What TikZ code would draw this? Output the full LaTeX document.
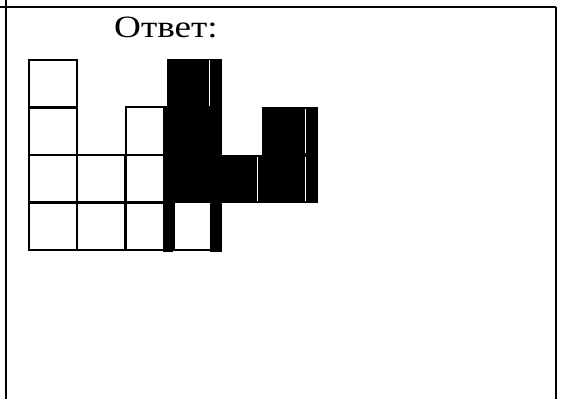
\documentclass[tikz,border=0pt]{standalone}
\usepackage{fontspec}
\setmainfont{Liberation Serif}
\newfontfamily\answerfont[FakeStretch=1.2]{Liberation Serif}
\begin{document}
\begin{tikzpicture}[x=1pt, y=-1pt,
    cell/.style={draw=black, line width=2.8pt},
    gap/.style={draw=white, line width=1pt}]
  \useasboundingbox (0,0) rectangle (561,399);
  % table borders
  \draw[line width=2pt] (0,7) -- (556,7);
  \draw[line width=2pt] (6,0) -- (6,399);
  \draw[line width=2pt] (556,7) -- (556,399);
  % caption
  \node[font=\answerfont\fontsize{31}{34}\selectfont, anchor=base, inner sep=0pt] (answer) at (166,37) {Ответ:};
  % empty cells
  \foreach \x/\y in {29/60, 29/107, 29/155, 29/202, 77/155, 77/202, 126/107, 126/155, 126/202}
    \draw[cell] (\x,\y) rectangle ++(48,48);
  \draw[cell] (173,250) -- (210,250);
  % filled cells
  \fill (167,59) rectangle (222,107);
  \fill (163,107) rectangle (222,203);
  \fill (163,203) rectangle (173,252);
  \fill (210,203) rectangle (222,252);
  \fill (222,155) rectangle (318,203);
  \fill (262,107) rectangle (318,155);
  % thin seams between filled cells
  \draw[gap] (209,60) -- (209,106);
  \draw[gap] (305,109) -- (305,153);
  \draw[gap] (305,157) -- (305,201);
  \draw[gap] (257,157) -- (257,201);
\end{tikzpicture}
\end{document}
